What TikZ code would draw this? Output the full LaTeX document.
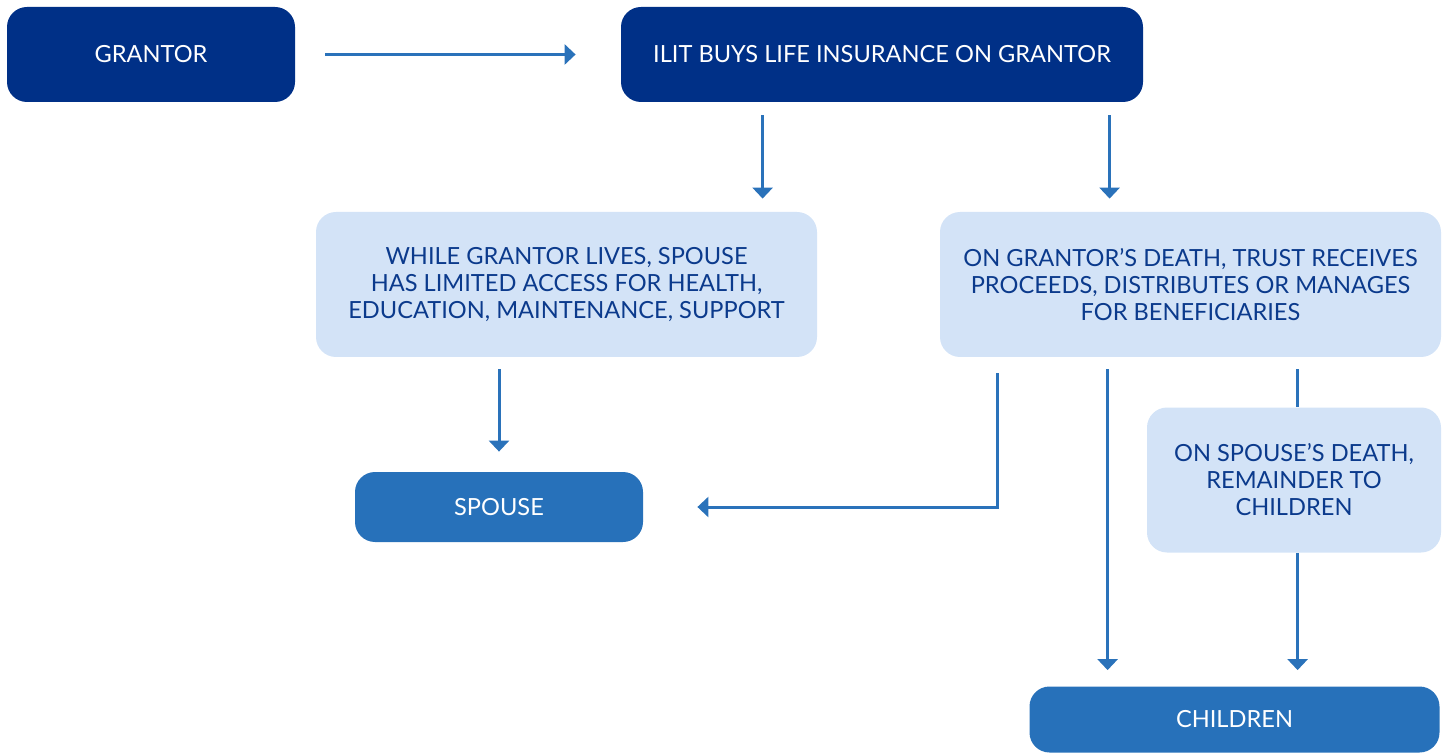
\documentclass[tikz,border=0pt]{standalone}
\usepackage{fontspec}
\setmainfont{Lato}
\usetikzlibrary{arrows.meta,calc}
\definecolor{navy}{HTML}{003087}
\definecolor{midblue}{HTML}{2771BA}
\definecolor{paleblue}{HTML}{D3E3F7}
\definecolor{inktext}{HTML}{0B3A8C}
\definecolor{linkblue}{HTML}{2A72BA}
\begin{document}
\begin{tikzpicture}[x=0.5pt,y=-0.5pt,
  box/.style={rectangle,rounded corners=10pt,inner sep=0pt,align=center,
    font=\fontsize{11.8}{13.5}\selectfont},
  darkbox/.style={box,fill=navy,text=white},
  midbox/.style={box,fill=midblue,text=white},
  palebox/.style={box,fill=paleblue,text=inktext},
  arr/.style={draw=linkblue,line width=1.5pt,-{Triangle[length=5.5pt,width=10pt]}},
  link/.style={draw=linkblue,line width=1.5pt}]
\useasboundingbox (0,0) rectangle (1450,753);

% boxes
\node[darkbox,minimum width=144pt,minimum height=47.5pt] (grantor) at (151,54.5) {GRANTOR};
\node[darkbox,minimum width=261pt,minimum height=47.5pt] (ilit) at (882,54.5) {ILIT BUYS LIFE INSURANCE ON GRANTOR};
\node[palebox,minimum width=250.5pt,minimum height=72.5pt] (lives) at (566.5,284.5)
  {WHILE GRANTOR LIVES, SPOUSE\\HAS LIMITED ACCESS FOR HEALTH,\\EDUCATION, MAINTENANCE, SUPPORT};
\node[palebox,minimum width=250.5pt,minimum height=72.5pt] (death) at (1190.5,284.5)
  {ON GRANTOR’S DEATH, TRUST RECEIVES\\PROCEEDS, DISTRIBUTES OR MANAGES\\FOR BENEFICIARIES};
\node[midbox,minimum width=144pt,minimum height=35pt] (spouse) at (499,507) {SPOUSE};
\node[palebox,minimum width=147pt,minimum height=72.5pt] (sdeath) at (1294,480)
  {ON SPOUSE’S DEATH,\\REMAINDER TO\\CHILDREN};
\node[midbox,minimum width=205pt,minimum height=33pt] (children) at (1234.5,719.5) {CHILDREN};

% connectors
\draw[arr,shorten <=15pt,shorten >=22.5pt] (grantor.east) -- (grantor.east -| ilit.west);
\coordinate (ilitA) at ($(ilit.south west)+(142,0)$);
\coordinate (ilitB) at ($(ilit.south west)+(489,0)$);
\draw[arr,shorten <=6.5pt,shorten >=6.5pt] (ilitA) -- (ilitA |- lives.north);
\draw[arr,shorten <=6.5pt,shorten >=6.5pt] (ilitB) -- (ilitB |- death.north);
\draw[arr,shorten <=6pt,shorten >=10pt] (lives.south -| spouse.north) -- (spouse.north);
\coordinate (deathA) at ($(death.south west)+(58,0)$);
\coordinate (deathB) at ($(death.south west)+(168,0)$);
\coordinate (deathC) at ($(death.south west)+(358,0)$);
\draw[arr,shorten <=8pt,shorten >=27pt] (deathA) -- (deathA |- spouse.east) -- (spouse.east);
\draw[arr,shorten <=6pt,shorten >=8pt] (deathB) -- (deathB |- children.north);
\draw[link,shorten <=6pt] (deathC) -- (deathC |- sdeath.north);
\draw[arr,shorten >=8pt] (deathC |- sdeath.south) -- (deathC |- children.north);
\end{tikzpicture}
\end{document}
